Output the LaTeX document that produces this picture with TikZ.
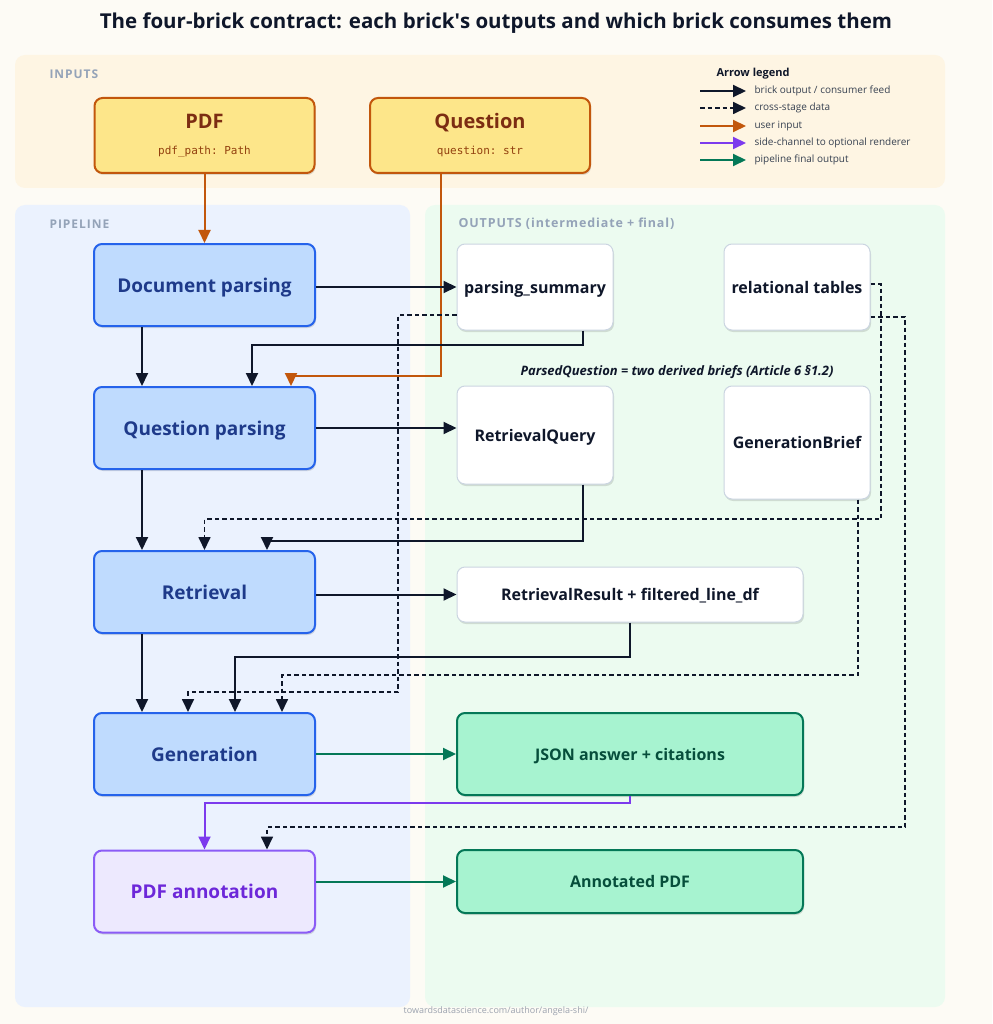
\documentclass[tikz,border=0pt]{standalone}
\usepackage{fontspec}
\setmainfont{Open Sans}
\setmonofont{DejaVu Sans Mono}
\usetikzlibrary{arrows.meta,shadows,calc}
\definecolor{bg}{HTML}{FDFBF5}
\definecolor{inpanel}{HTML}{FEF5E3}
\definecolor{pipepanel}{HTML}{EBF2FE}
\definecolor{outpanel}{HTML}{ECFBF0}
\definecolor{panellabel}{HTML}{94A3B8}
\definecolor{infill}{HTML}{FDE68A}
\definecolor{inborder}{HTML}{C2570C}
\definecolor{intext}{HTML}{7C2D12}
\definecolor{monotext}{HTML}{92400E}
\definecolor{brickfill}{HTML}{BFDBFE}
\definecolor{brickborder}{HTML}{2563EB}
\definecolor{bricktext}{HTML}{1E3A8A}
\definecolor{annfill}{HTML}{EDE9FE}
\definecolor{annborder}{HTML}{8B5CF6}
\definecolor{anntext}{HTML}{6D28D9}
\definecolor{outborder}{HTML}{CBD5E1}
\definecolor{finfill}{HTML}{A7F3D0}
\definecolor{finborder}{HTML}{047857}
\definecolor{fintext}{HTML}{064E3B}
\definecolor{navy}{HTML}{0F172A}
\definecolor{userc}{HTML}{C2570C}
\definecolor{sidec}{HTML}{7C3AED}
\definecolor{finc}{HTML}{047857}
\definecolor{legtext}{HTML}{374151}
\definecolor{foot}{HTML}{9CA3AF}
\tikzset{
  shadowed/.style={drop shadow={shadow xshift=1pt,shadow yshift=-2pt,opacity=0.12,fill=black}},
  brick/.style={shadowed,draw=brickborder,fill=brickfill,line width=2pt,rounded corners=8pt,
    minimum width=221pt,minimum height=82pt,text depth=0pt,text=bricktext,font=\fontsize{19}{23}\selectfont\bfseries},
  annbrick/.style={brick,draw=annborder,fill=annfill,text=anntext},
  inbox/.style={shadowed,draw=inborder,fill=infill,line width=2pt,rounded corners=8pt,
    minimum width=220pt,minimum height=75pt,text=intext,align=center},
  outbox/.style={shadowed,draw=outborder,fill=white,line width=1pt,rounded corners=8pt,
    text depth=0pt,text=navy,font=\fontsize{16}{20}\selectfont\bfseries},
  finbox/.style={shadowed,draw=finborder,fill=finfill,line width=2pt,rounded corners=8pt,
    minimum width=346pt,text depth=0pt,text=fintext,font=\fontsize{16}{20}\selectfont\bfseries},
  tip/.style={-{Triangle[length=13pt,width=12pt]}},
  feed/.style={tip,draw=navy,line width=2pt,color=navy},
  cross/.style={tip,draw=navy,line width=1.7pt,color=navy,dash pattern=on 4.5pt off 3pt},
  userin/.style={tip,line width=2pt,color=userc},
  sidech/.style={tip,line width=2pt,color=sidec},
  finout/.style={tip,line width=2pt,color=finc},
  panellab/.style={anchor=west,text=panellabel,font=\fontsize{12}{14}\selectfont\bfseries\addfontfeature{LetterSpace=8}},
  legtxt/.style={anchor=west,text=legtext,font=\fontsize{10}{12}\selectfont},
}
\begin{document}
\begin{tikzpicture}[x=1pt,y=-1pt]
\fill[bg] (0,0) rectangle (992,1024);
\useasboundingbox (0,0) rectangle (992,1024);

% title
\node[text=navy,font=\fontsize{20.5}{24}\selectfont\bfseries] (title) at (496,23)
  {The four-brick contract: each brick\textquotesingle s outputs and which brick consumes them};

% panels
\fill[inpanel,rounded corners=10pt] (15,55) rectangle (945,188);
\fill[pipepanel,rounded corners=10pt] (15,205) rectangle (410,1007);
\fill[outpanel,rounded corners=10pt] (425,205) rectangle (945,1007);
\node[panellab] (lin) at (46,74) {INPUTS};
\node[panellab] (lpipe) at (46,224) {PIPELINE};
\node[panellab,font=\fontsize{12.5}{14}\selectfont\bfseries\addfontfeature{LetterSpace=7}] (lout) at (455,224) {OUTPUTS (intermediate + final)};

% inputs
\node[inbox] (pdf) at (204.5,135.5) {{\fontsize{20}{24}\selectfont\bfseries PDF}\\[14pt]{\color{monotext}\fontsize{11}{13}\ttfamily pdf\_path: Path}};
\node[inbox] (q) at (480,135.5) {{\fontsize{20}{24}\selectfont\bfseries Question}\\[14pt]{\color{monotext}\fontsize{11}{13}\ttfamily question: str}};

% legend
\node[anchor=west,text=navy,font=\fontsize{11}{13}\selectfont\bfseries] (legt) at (713,74) {Arrow legend};
\coordinate (la1) at (700,91);  \coordinate (lb1) at (746,91);
\coordinate (la2) at (700,108); \coordinate (lb2) at (746,108);
\coordinate (la3) at (700,126); \coordinate (lb3) at (746,126);
\coordinate (la4) at (700,143); \coordinate (lb4) at (746,143);
\coordinate (la5) at (700,160); \coordinate (lb5) at (746,160);
\draw[feed] (la1) -- (lb1);
\draw[cross] (la2) -- (lb2);
\draw[userin] (la3) -- (lb3);
\draw[sidech] (la4) -- (lb4);
\draw[finout] (la5) -- (lb5);
\node[legtxt] (lt1) at (751,91) {brick output / consumer feed};
\node[legtxt] (lt2) at (751,108) {cross-stage data};
\node[legtxt] (lt3) at (751,126) {user input};
\node[legtxt] (lt4) at (751,143) {side-channel to optional renderer};
\node[legtxt] (lt5) at (751,160) {pipeline final output};

% bricks
\node[brick] (doc) at (204.5,285) {Document parsing};
\node[brick] (qp) at (204.5,428) {Question parsing};
\node[brick] (ret) at (204.5,592) {Retrieval};
\node[brick] (gen) at (204.5,754) {Generation};
\node[annbrick] (ann) at (204.5,891.5) {PDF annotation};

% outputs
\node[outbox,minimum width=156pt,minimum height=86pt] (ps) at (535,287) {parsing\_summary};
\node[outbox,minimum width=146pt,minimum height=86pt] (rt) at (797,287) {relational tables};
\node[text=navy,font=\fontsize{13}{15}\selectfont\bfseries\itshape] (pqlab) at (677,372) {ParsedQuestion = two derived briefs (Article 6 §1.2)};
\node[outbox,minimum width=156pt,minimum height=98pt] (rq) at (535,435) {RetrievalQuery};
\node[outbox,minimum width=146pt,minimum height=113pt] (gb) at (797,442.5) {GenerationBrief};
\node[outbox,minimum width=346pt,minimum height=55pt] (rr) at (630,594.5) {RetrievalResult + filtered\_line\_df};
\node[finbox,minimum height=82pt] (json) at (630,754) {JSON answer + citations};
\node[finbox,minimum height=63pt] (apdf) at (630,881.5) {Annotated PDF};

% user inputs
\draw[userin] (pdf.south) -- (doc.north);
\draw[userin] ([xshift=-39pt]q.south) -- (441,376) -- (291,376) -- ([xshift=86.5pt]qp.north);

% brick outputs / feeds
\draw[feed] (doc.east |- ps.west) -- (ps.west);
\draw[feed] ([xshift=-62.5pt]doc.south) -- ([xshift=-62.5pt]qp.north);
\draw[feed] ([xshift=48pt]ps.south) -- (583,345) -- (252,345) -- ([xshift=47.5pt]qp.north);
\draw[feed] (qp.east) -- (qp.east -| rq.west);
\draw[feed] ([xshift=-62.5pt]qp.south) -- ([xshift=-62.5pt]ret.north);
\draw[feed] ([xshift=48pt]rq.south) -- (583,541) -- (267,541) -- ([xshift=62.5pt]ret.north);
\draw[feed] (ret.east |- rr.west) -- (rr.west);
\draw[feed] ([xshift=-62.5pt]ret.south) -- ([xshift=-62.5pt]gen.north);
\draw[feed] (rr.south) -- (630,657) -- (235,657) -- ([xshift=30.5pt]gen.north);

% cross-stage data
\draw[cross] ([yshift=-28pt]ps.west) -- (398,315) -- (398,692) -- (188,692) -- ([xshift=-16.5pt]gen.north);
\draw[cross] ([yshift=3pt]rt.east) -- (881,284) -- (881,519) -- (204.5,519) -- (ret.north);
\draw[cross] ([xshift=61pt]gb.south) -- (858,675) -- (282,675) -- ([xshift=77.5pt]gen.north);
\draw[cross] ([yshift=-30pt]rt.east) -- (905,317) -- (905,827) -- (267,827) -- ([xshift=62.5pt]ann.north);

% final outputs / side channel
\draw[finout] (gen.east |- json.west) -- (json.west);
\draw[sidech] (json.south) -- (630,803) -- (204.5,803) -- (ann.north);
\draw[finout] (ann.east |- apdf.west) -- (apdf.west);

% footer
\node[text=foot,font=\fontsize{9}{11}\selectfont] (footer) at (496,1011) {towardsdatascience.com/author/angela-shi/};
\end{tikzpicture}
\end{document}
